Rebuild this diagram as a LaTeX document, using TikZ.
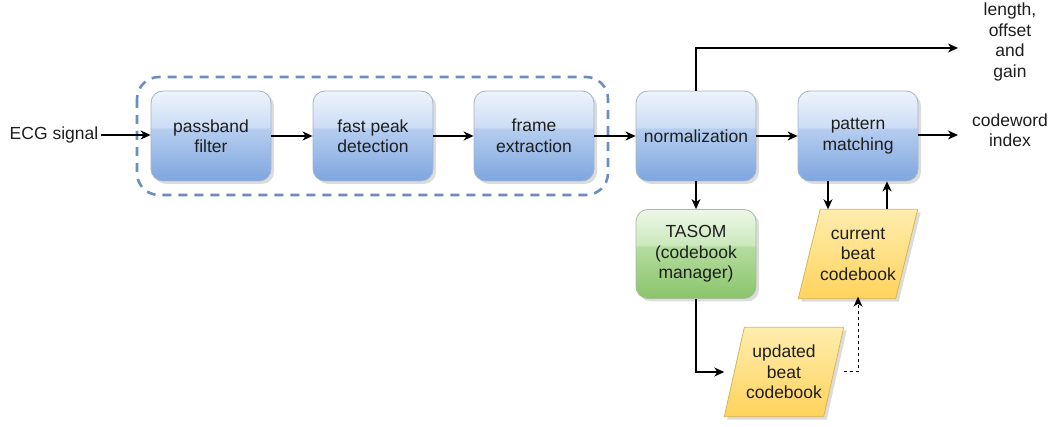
\documentclass[tikz,border=0pt]{standalone}
\usepackage{fontspec}
\setmainfont{Liberation Sans}
\usetikzlibrary{arrows.meta,shadows,backgrounds}

\definecolor{bluehi}{HTML}{EEF4FC}
\definecolor{bluehilow}{HTML}{CCDDF5}
\definecolor{bluelotop}{HTML}{B6CDEF}
\definecolor{bluebot}{HTML}{7EA6E0}
\definecolor{blueline}{HTML}{A2B4CB}
\definecolor{greenhi}{HTML}{EDF7E8}
\definecolor{greenhilow}{HTML}{CBE8BC}
\definecolor{greenlotop}{HTML}{B4DC9F}
\definecolor{greenbot}{HTML}{8AC46A}
\definecolor{greenline}{HTML}{A5C098}
\definecolor{yellowtop}{HTML}{FFEDAE}
\definecolor{yellowbot}{HTML}{FFD35C}
\definecolor{yellowline}{HTML}{D6B656}
\definecolor{groupline}{HTML}{6C8EBF}
\definecolor{ink}{HTML}{1E1E1E}

% glossy vertical fills: darker lower gradient, lighter upper band
\pgfdeclareverticalshading{blueglass}{100bp}{color(0bp)=(bluebot); color(25bp)=(bluebot);
  color(54bp)=(bluelotop); color(55bp)=(bluehilow); color(75bp)=(bluehi); color(100bp)=(bluehi)}
\pgfdeclareverticalshading{greenglass}{100bp}{color(0bp)=(greenbot); color(25bp)=(greenbot);
  color(54bp)=(greenlotop); color(55bp)=(greenhilow); color(75bp)=(greenhi); color(100bp)=(greenhi)}

\newcommand\lbl{\fontsize{17.5}{20.5}\selectfont}

\tikzset{
  boxshadow/.style={drop shadow={shadow xshift=3pt, shadow yshift=-3pt, fill=black!30, opacity=0.45}},
  procbox/.style={rounded corners=12pt, line width=0.8pt, minimum width=120pt,
    minimum height=90pt, align=center, font=\lbl, text=ink, boxshadow},
  bluebox/.style={procbox, draw=blueline, shade, shading=blueglass},
  greenbox/.style={procbox, draw=greenline, shade, shading=greenglass},
  datalabel/.style={minimum width=119pt, minimum height=89pt, inner sep=0pt, align=center, font=\lbl, text=ink},
  datashape/.style={draw=yellowline, line width=0.8pt, top color=yellowtop, bottom color=yellowbot, boxshadow},
  plain/.style={align=center, font=\lbl, text=ink, inner sep=3pt},
  arr/.style={draw=black, line width=1.3pt, -{Stealth[length=10pt,width=9pt,inset=3pt]}},
  groupbox/.style={draw=groupline, line width=2.6pt, dash pattern=on 9pt off 7pt, rounded corners=22pt},
}

\begin{document}
\begin{tikzpicture}[x=1pt,y=-1pt]
  \useasboundingbox (0,0) rectangle (1058,427);

  % preprocessing group outline
  \draw[groupbox] (137,77) rectangle (608,195);

  % processing blocks
  \node[bluebox]  (pf)    at (211,136) {passband\\filter};
  \node[bluebox]  (fpd)   at (373,136) {fast peak\\detection};
  \node[bluebox]  (fe)    at (534,136) {frame\\extraction};
  \node[bluebox]  (norm)  at (696,136) {normalization};
  \node[bluebox]  (pm)    at (858,136) {pattern\\matching};
  \node[greenbox, minimum height=89pt] (tasom) at (696,254) {TASOM\\(codebook\\manager)};

  % codebooks (parallelograms drawn behind their labels)
  \node[datalabel] (cur) at (858,254) {current\\beat\\codebook};
  \node[datalabel] (upd) at (784,372) {updated\\beat\\codebook};
  \begin{scope}[on background layer]
    \path[datashape] ([xshift=22pt]cur.north west) -- (cur.north east)
      -- ([xshift=-22pt]cur.south east) -- (cur.south west) -- cycle;
    \path[datashape] ([xshift=20pt]upd.north west) -- (upd.north east)
      -- ([xshift=-20pt]upd.south east) -- (upd.south west) -- cycle;
  \end{scope}

  % inputs and outputs
  \node[plain] (ecg) at (54,135) {ECG signal};
  \node[plain] (lg)  at (1010,42) {length,\\offset\\and\\gain};
  \node[plain] (cw)  at (1010,130) {codeword\\index};
  \coordinate (lgend) at (958,48);
  \coordinate (cwend) at (958,135);

  % connectors
  \draw[arr] (ecg.east) -- (ecg.east -| pf.west);
  \draw[arr] (pf) -- (fpd);
  \draw[arr] (fpd) -- (fe);
  \draw[arr] (fe) -- (norm);
  \draw[arr] (norm) -- (pm);
  \draw[arr] (pm.east |- cwend) -- (cwend);
  \draw[arr] (norm.north) |- (lgend);
  \draw[arr] (norm.south) -- (tasom.north);
  \draw[arr] ([xshift=-30pt]pm.south) -- ([xshift=-30pt]pm.south |- cur.north);
  \draw[arr] ([xshift=29pt]cur.north) -- ([xshift=29pt]cur.north |- pm.south);
  \draw[arr] (tasom.south) |- (upd.west);
  \draw[arr, line width=1pt, dash pattern=on 3pt off 3pt] (upd.east) -| ([yshift=2pt]cur.south);
\end{tikzpicture}
\end{document}
